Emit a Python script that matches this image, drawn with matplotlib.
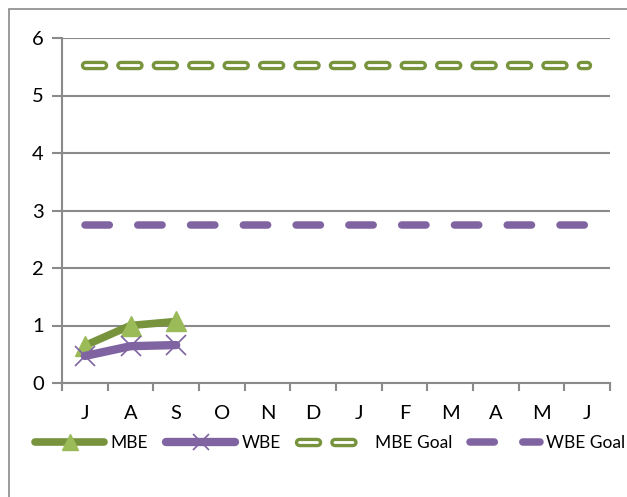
import numpy as np
import matplotlib
matplotlib.use("Agg")
from matplotlib import pyplot as plt
from matplotlib.legend_handler import HandlerTuple
from matplotlib.patches import Rectangle

plt.rcParams['font.family'] = ['Lato', 'DejaVu Sans']
plt.rcParams['lines.scale_dashes'] = False

months = ["J", "A", "S", "O", "N", "D", "J", "F", "M", "A", "M", "J"]
mbe = [0.65, 1.0, 1.07]
wbe = [0.47, 0.64, 0.66]
mbe_goal = [5.53] * 12
wbe_goal = [2.75] * 12

GREEN = "#77933C"
LIGHT_GREEN = "#9BBB59"
PURPLE = "#8064A2"
GRID = "#8A8A8A"

fig = plt.figure(figsize=(6.27, 4.97), dpi=100)
# outer chart border
fig.patches.append(Rectangle((9 / 627, -0.01), 1.0, 1 - 9 / 497 + 0.01, transform=fig.transFigure,
                             fill=False, edgecolor=GRID, linewidth=1.2))
ax = fig.add_axes([62 / 627, 1 - 383 / 497, (610 - 62) / 627, (383 - 38) / 497])

x = np.arange(len(months))

# MBE goal: hollow dashed line (green outline, white core)
ax.plot(x, mbe_goal, color=GREEN, lw=6.8, dashes=(13.0, 12.5), dash_capstyle='round', zorder=3)
ax.plot(x, mbe_goal, color="white", lw=2.0, dashes=(13.0, 12.5), dash_capstyle='round', zorder=4)
# WBE goal
ax.plot(x, wbe_goal, color=PURPLE, lw=5.4, dashes=(17.5, 20.5), dash_capstyle='round', zorder=3)

ax.plot(x[:3], mbe, color=GREEN, lw=5.5, marker='^', markersize=14,
        markerfacecolor=LIGHT_GREEN, markeredgecolor=LIGHT_GREEN, solid_capstyle='round', zorder=5)
ax.plot(x[:3], wbe, color=PURPLE, lw=6, marker='x', markersize=15, markeredgewidth=1.2,
        markeredgecolor=PURPLE, solid_capstyle='round', zorder=6)

ax.set_xlim(-0.5, 11.5)
ax.set_ylim(0, 6)
ax.set_yticks(range(7))
ax.set_xticks(x)
ax.set_xticklabels(months)
ax.set_xticks(np.arange(-0.5, 12, 1), minor=True)
ax.tick_params(axis='x', which='major', length=0, pad=16, labelsize=14.5)
ax.tick_params(axis='x', which='minor', length=6, color=GRID, width=1.5)
ax.tick_params(axis='y', length=7, color=GRID, width=1.5, pad=6, labelsize=14.5)
ax.grid(axis='y', color=GRID, lw=1.5)
ax.set_axisbelow(True)
for s in ['top', 'right']:
    ax.spines[s].set_visible(False)
for s in ['left', 'bottom']:
    ax.spines[s].set_color(GRID)
    ax.spines[s].set_linewidth(1.5)

# legend handles
h_mbe = plt.Line2D([], [], color=GREEN, lw=5.5, marker='^', markersize=12,
                   markerfacecolor=LIGHT_GREEN, markeredgecolor=LIGHT_GREEN, solid_capstyle='round')
h_wbe = plt.Line2D([], [], color=PURPLE, lw=6, marker='x', markersize=12,
                   markeredgewidth=1.2, solid_capstyle='round')
h_mg_o = plt.Line2D([], [], color=GREEN, lw=6.8, dashes=(13.0, 12.5), dash_capstyle='round')
h_mg_i = plt.Line2D([], [], color="white", lw=2.0, dashes=(13.0, 12.5), dash_capstyle='round')
h_wg = plt.Line2D([], [], color=PURPLE, lw=5.4, dashes=(17.5, 20.5), dash_capstyle='round')
leg = fig.legend([h_mbe, h_wbe, (h_mg_o, h_mg_i), h_wg], ["MBE", "WBE", "MBE Goal", "WBE Goal"],
                 handler_map={tuple: HandlerTuple(ndivide=1, pad=0)},
                 loc='center', bbox_to_anchor=(0.526, 1 - 443 / 497), ncol=4, frameon=False,
                 fontsize=12.5, handlelength=4.0, handletextpad=0.35, columnspacing=1.05,
                 borderpad=0, borderaxespad=0)

fig.savefig("out.png", dpi=100)
